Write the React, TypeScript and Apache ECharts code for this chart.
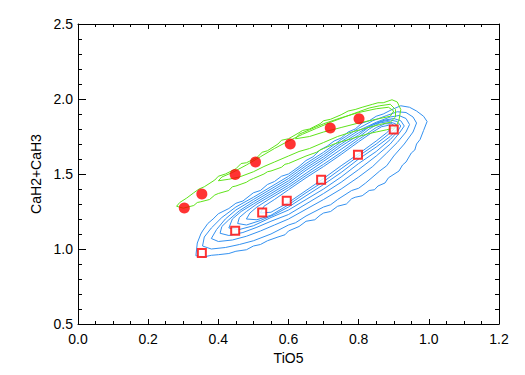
import React, { useEffect, useRef } from "react";
import * as echarts from "echarts";

const xTicks = [0, 0.2, 0.4, 0.6, 0.8, 1.0, 1.2];
const yTicks = [0.5, 1.0, 1.5, 2.0, 2.5];

const circlesTiO5 = [0.303, 0.353, 0.448, 0.506, 0.605, 0.719, 0.801];
const circlesCaH = [1.273, 1.367, 1.497, 1.58, 1.70, 1.807, 1.869];

const squaresTiO5 = [0.353, 0.448, 0.525, 0.595, 0.693, 0.798, 0.90];
const squaresCaH = [0.973, 1.122, 1.244, 1.322, 1.462, 1.629, 1.797];

const blue1 = [[0.336,0.955],[0.36,0.948],[0.38,0.958],[0.40,0.962],[0.43,0.97],[0.45,0.985],[0.48,0.995],[0.50,1.02],[0.52,1.03],[0.54,1.055],[0.57,1.08],[0.59,1.095],[0.60,1.12],[0.63,1.15],[0.65,1.185],[0.675,1.195],[0.69,1.225],[0.70,1.24],[0.72,1.25],[0.74,1.285],[0.765,1.30],[0.78,1.335],[0.79,1.345],[0.81,1.355],[0.83,1.39],[0.845,1.395],[0.855,1.42],[0.875,1.44],[0.885,1.475],[0.895,1.49],[0.915,1.52],[0.925,1.56],[0.935,1.58],[0.95,1.64],[0.96,1.66],[0.965,1.70],[0.975,1.73],[0.985,1.79],[0.995,1.85],[0.985,1.885],[0.965,1.92],[0.945,1.945],[0.92,1.955],[0.895,1.93],[0.87,1.90],[0.85,1.885],[0.83,1.855],[0.81,1.84],[0.79,1.80],[0.77,1.78],[0.75,1.74],[0.73,1.72],[0.71,1.685],[0.69,1.66],[0.67,1.615],[0.65,1.59],[0.63,1.55],[0.60,1.50],[0.58,1.485],[0.56,1.45],[0.54,1.43],[0.52,1.39],[0.50,1.375],[0.47,1.32],[0.45,1.305],[0.43,1.27],[0.40,1.235],[0.385,1.20],[0.37,1.17],[0.355,1.12],[0.35,1.10],[0.34,1.04],[0.336,0.955]];
const blue2 = [[0.355,1.02],[0.38,1.00],[0.42,1.01],[0.46,1.03],[0.50,1.055],[0.55,1.10],[0.60,1.16],[0.62,1.175],[0.65,1.22],[0.70,1.28],[0.72,1.295],[0.74,1.33],[0.78,1.39],[0.80,1.405],[0.82,1.44],[0.86,1.52],[0.88,1.555],[0.90,1.62],[0.93,1.70],[0.955,1.78],[0.965,1.84],[0.955,1.88],[0.935,1.91],[0.91,1.915],[0.88,1.89],[0.84,1.855],[0.80,1.805],[0.75,1.73],[0.70,1.645],[0.65,1.57],[0.60,1.485],[0.55,1.415],[0.50,1.345],[0.45,1.28],[0.41,1.21],[0.38,1.14],[0.36,1.08],[0.355,1.02]];
const blue3 = [[0.38,1.07],[0.40,1.05],[0.44,1.06],[0.48,1.085],[0.52,1.12],[0.56,1.16],[0.60,1.20],[0.65,1.265],[0.70,1.33],[0.75,1.40],[0.80,1.48],[0.84,1.55],[0.88,1.64],[0.91,1.71],[0.935,1.78],[0.945,1.83],[0.935,1.87],[0.915,1.89],[0.89,1.88],[0.85,1.845],[0.80,1.79],[0.75,1.715],[0.70,1.63],[0.65,1.555],[0.60,1.47],[0.55,1.40],[0.50,1.33],[0.45,1.26],[0.42,1.20],[0.395,1.13],[0.38,1.07]];
const blue4 = [[0.405,1.105],[0.43,1.09],[0.47,1.11],[0.51,1.145],[0.55,1.185],[0.60,1.23],[0.65,1.30],[0.70,1.37],[0.75,1.445],[0.80,1.53],[0.85,1.62],[0.89,1.70],[0.915,1.77],[0.93,1.82],[0.92,1.855],[0.90,1.87],[0.875,1.86],[0.84,1.83],[0.80,1.775],[0.75,1.70],[0.70,1.615],[0.65,1.54],[0.60,1.455],[0.55,1.385],[0.50,1.315],[0.46,1.255],[0.43,1.195],[0.41,1.15],[0.405,1.105]];
const blue5 = [[0.43,1.14],[0.46,1.13],[0.50,1.155],[0.55,1.21],[0.60,1.26],[0.65,1.33],[0.70,1.40],[0.75,1.48],[0.80,1.57],[0.85,1.65],[0.89,1.73],[0.91,1.78],[0.92,1.82],[0.91,1.85],[0.89,1.86],[0.865,1.85],[0.83,1.815],[0.80,1.76],[0.75,1.685],[0.70,1.60],[0.65,1.525],[0.60,1.44],[0.55,1.37],[0.50,1.30],[0.465,1.25],[0.44,1.20],[0.43,1.14]];
const blue6 = [[0.455,1.17],[0.48,1.16],[0.52,1.19],[0.56,1.23],[0.60,1.28],[0.65,1.355],[0.70,1.43],[0.75,1.51],[0.80,1.60],[0.85,1.68],[0.89,1.75],[0.91,1.80],[0.905,1.835],[0.885,1.85],[0.86,1.84],[0.83,1.80],[0.80,1.745],[0.75,1.665],[0.70,1.585],[0.65,1.505],[0.60,1.425],[0.55,1.355],[0.51,1.30],[0.48,1.25],[0.46,1.21],[0.455,1.17]];
const blue7 = [[0.48,1.20],[0.51,1.195],[0.55,1.225],[0.60,1.295],[0.65,1.375],[0.70,1.45],[0.75,1.535],[0.80,1.62],[0.85,1.70],[0.885,1.765],[0.905,1.81],[0.895,1.835],[0.875,1.835],[0.85,1.81],[0.80,1.73],[0.75,1.645],[0.70,1.565],[0.65,1.49],[0.60,1.41],[0.55,1.34],[0.51,1.28],[0.49,1.24],[0.48,1.20]];
const blue8 = [[0.52,1.24],[0.55,1.245],[0.60,1.31],[0.65,1.39],[0.70,1.47],[0.75,1.555],[0.80,1.635],[0.85,1.72],[0.88,1.775],[0.895,1.81],[0.885,1.825],[0.865,1.815],[0.84,1.78],[0.80,1.715],[0.75,1.63],[0.70,1.55],[0.65,1.475],[0.60,1.395],[0.56,1.33],[0.53,1.285],[0.52,1.24]];

const green1 = [[0.281,1.285],[0.30,1.272],[0.33,1.29],[0.34,1.31],[0.35,1.315],[0.375,1.33],[0.39,1.36],[0.40,1.37],[0.43,1.39],[0.44,1.415],[0.45,1.42],[0.48,1.445],[0.49,1.46],[0.50,1.47],[0.53,1.50],[0.54,1.515],[0.55,1.52],[0.58,1.545],[0.59,1.565],[0.60,1.57],[0.63,1.60],[0.65,1.62],[0.68,1.645],[0.69,1.66],[0.70,1.67],[0.73,1.70],[0.75,1.715],[0.78,1.735],[0.80,1.75],[0.83,1.77],[0.85,1.78],[0.88,1.795],[0.905,1.81],[0.915,1.86],[0.92,1.93],[0.91,1.98],[0.895,1.995],[0.87,1.975],[0.855,1.975],[0.84,1.965],[0.81,1.945],[0.79,1.93],[0.77,1.92],[0.75,1.895],[0.72,1.865],[0.70,1.855],[0.69,1.835],[0.66,1.80],[0.64,1.79],[0.63,1.775],[0.60,1.735],[0.58,1.725],[0.57,1.70],[0.54,1.655],[0.525,1.645],[0.51,1.61],[0.48,1.575],[0.465,1.57],[0.45,1.535],[0.42,1.50],[0.40,1.485],[0.39,1.46],[0.36,1.415],[0.345,1.40],[0.33,1.375],[0.31,1.34],[0.29,1.31],[0.281,1.285]];
const green2 = [[0.40,1.455],[0.43,1.465],[0.46,1.48],[0.50,1.515],[0.53,1.55],[0.56,1.58],[0.60,1.62],[0.63,1.65],[0.66,1.67],[0.70,1.71],[0.74,1.75],[0.78,1.78],[0.82,1.805],[0.86,1.83],[0.89,1.845],[0.905,1.88],[0.905,1.93],[0.89,1.965],[0.86,1.955],[0.83,1.94],[0.80,1.915],[0.76,1.88],[0.72,1.845],[0.68,1.805],[0.64,1.765],[0.60,1.72],[0.56,1.67],[0.52,1.615],[0.48,1.56],[0.44,1.51],[0.41,1.48],[0.40,1.455]];
const green3 = [[0.62,1.735],[0.66,1.75],[0.70,1.78],[0.75,1.81],[0.80,1.84],[0.85,1.865],[0.89,1.885],[0.90,1.92],[0.885,1.945],[0.85,1.935],[0.80,1.91],[0.75,1.875],[0.70,1.835],[0.66,1.795],[0.63,1.765],[0.62,1.735]];

const blueContours = [blue1, blue2, blue3, blue4, blue5, blue6, blue7, blue8];
const greenContours = [green1, green2, green3];

const BLUE = "#3391f0";
const GREEN = "#5fe31a";
const RED = "#ff0000";
const FONT = "Liberation Sans, Arial, sans-serif";

export default function App() {
  const ref = useRef<HTMLDivElement>(null);
  useEffect(() => {
    if (!ref.current) return;
    const chart = echarts.init(ref.current, undefined, { renderer: "svg" });
    const contourSeries = (data: number[][], color: string) => ({
      type: "line",
      data,
      showSymbol: false,
      symbol: "none",
      silent: true,
      lineStyle: { color, width: 1 },
      xAxisIndex: 0,
      yAxisIndex: 0,
      z: 2,
    });
    const axisCommon = {
      axisLine: { show: true, onZero: false, lineStyle: { color: "#000", width: 1 } },
      splitLine: { show: false },
    };
    chart.setOption({
      animation: false,
      backgroundColor: "#fff",
      grid: { left: 78, right: 26, top: 24, bottom: 51, containLabel: false },
      xAxis: [
        {
          type: "value",
          min: 0,
          max: 1.2,
          interval: 0.2,
          position: "bottom",
          ...axisCommon,
          axisTick: { show: true, inside: true, length: 5, lineStyle: { color: "#000" } },
          minorTick: { show: true, splitNumber: 4, length: 3, lineStyle: { color: "#000" } },
          axisLabel: {
            color: "#000",
            fontFamily: FONT,
            fontSize: 14,
            margin: 8,
            formatter: (v: number) => (xTicks.some((t) => Math.abs(t - v) < 1e-6) ? v.toFixed(1) : ""),
          },
          name: "TiO5",
          nameLocation: "middle",
          nameGap: 24,
          nameTextStyle: { color: "#000", fontFamily: FONT, fontSize: 14 },
        },
        {
          type: "value",
          min: 0,
          max: 1.2,
          interval: 0.2,
          position: "top",
          ...axisCommon,
          axisTick: { show: true, inside: true, length: 5, lineStyle: { color: "#000" } },
          minorTick: { show: true, splitNumber: 4, length: 3, lineStyle: { color: "#000" } },
          axisLabel: { show: false },
        },
      ],
      yAxis: [
        {
          type: "value",
          min: 0.5,
          max: 2.5,
          interval: 0.5,
          position: "left",
          ...axisCommon,
          axisTick: { show: true, inside: true, length: 8, lineStyle: { color: "#000" } },
          minorTick: { show: true, splitNumber: 5, length: 4, lineStyle: { color: "#000" } },
          axisLabel: {
            color: "#000",
            fontFamily: FONT,
            fontSize: 14,
            margin: 5,
            formatter: (v: number) => (yTicks.some((t) => Math.abs(t - v) < 1e-6) ? v.toFixed(1) : ""),
          },
          name: "CaH2+CaH3",
          nameLocation: "middle",
          nameGap: 34,
          nameTextStyle: { color: "#000", fontFamily: FONT, fontSize: 14 },
        },
        {
          type: "value",
          min: 0.5,
          max: 2.5,
          interval: 0.5,
          position: "right",
          ...axisCommon,
          axisTick: { show: true, inside: true, length: 8, lineStyle: { color: "#000" } },
          minorTick: { show: true, splitNumber: 5, length: 4, lineStyle: { color: "#000" } },
          axisLabel: { show: false },
        },
      ],
      series: [
        ...blueContours.map((c) => contourSeries(c, BLUE)),
        ...greenContours.map((c) => contourSeries(c, GREEN)),
        {
          type: "scatter",
          data: squaresTiO5.map((x, i) => [x, squaresCaH[i]]),
          symbol: "rect",
          symbolSize: 8,
          itemStyle: { color: "#fff", borderColor: RED, borderWidth: 2 },
          z: 5,
        },
        {
          type: "scatter",
          data: circlesTiO5.map((x, i) => [x, circlesCaH[i]]),
          symbol: "circle",
          symbolSize: 11,
          itemStyle: { color: RED },
          z: 6,
        },
      ],
    });
    return () => chart.dispose();
  }, []);
  return (
    <div
      ref={ref}
      style={{ position: "fixed", left: 0, top: 0, width: 525, height: 375, background: "#fff" }}
    />
  );
}
